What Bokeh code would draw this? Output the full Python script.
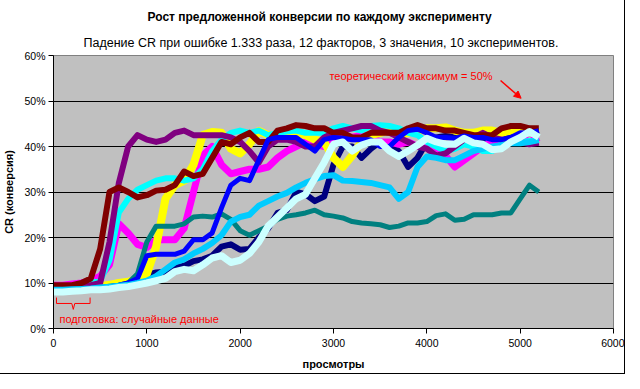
from bokeh.plotting import figure
from bokeh.models import (Range1d, SingleIntervalTicker, PrintfTickFormatter,
                          Title, Label, Arrow, NormalHead)
from bokeh.embed import file_html
from bokeh.resources import INLINE

FONT = "Liberation Sans"

TITLE = "Рост предложенной конверсии по каждому эксперименту"
SUBTITLE = "Падение CR при ошибке 1.333 раза, 12 факторов, 3 значения, 10 экспериментов."
X_LABEL = "просмотры"
Y_LABEL = "CR (конверсия)"
NOTE_MAX = "теоретический максимум = 50%"
NOTE_PREP = "подготовка: случайные данные"

# views (x) for every series
views = [0, 100, 200, 300, 400, 500, 600, 700, 800, 900,
         1000, 1100, 1200, 1300, 1400, 1500, 1600, 1700, 1800, 1900,
         2000, 2100, 2200, 2300, 2400, 2500, 2600, 2700, 2800, 2900,
         3000, 3100, 3200, 3300, 3400, 3500, 3600, 3700, 3800, 3900,
         4000, 4100, 4200, 4300, 4400, 4500, 4600, 4700, 4800, 4900,
         5000, 5100, 5200]

# conversion, % (one list per experiment)
cr_exp1 = [8.5, 8.6, 8.7, 8.8, 9.0, 9.2, 9.5, 9.8, 10.2, 10.8,
           11.8, 12.3, 12.5, 13.3, 13.8, 14.8, 15.2, 16.0, 18.0, 18.5,
           17.3, 17.5, 20.0, 22.0, 25.4, 26.0, 30.0, 29.5, 28.0, 29.0,
           36.0, 40.0, 40.0, 37.5, 39.5, 41.0, 40.5, 39.0, 35.5, 37.5,
           41.0, 42.0, 42.3, 42.0, 42.5, 42.0, 41.0, 39.5, 41.0, 42.5,
           43.0, 43.0, 43.5]
cr_exp2 = [9.5, 9.5, 9.8, 10.0, 10.5, 11.5, 14.0, 23.0, 21.0, 18.5,
           17.8, 19.5, 19.5, 19.5, 22.0, 30.0, 38.0, 40.0, 36.0, 34.0,
           34.5, 35.0, 35.0, 35.5, 37.5, 39.0, 40.0, 41.0, 40.5, 40.0,
           41.5, 42.5, 42.0, 42.5, 42.0, 41.0, 41.0, 40.5, 41.0, 40.0,
           40.0, 39.0, 38.0, 35.5, 37.0, 38.5, 40.0, 41.0, 41.5, 41.0,
           42.0, 41.0, 42.0]
cr_exp3 = [8.5, 8.5, 8.6, 8.7, 9.0, 9.3, 9.6, 10.0, 10.3, 10.7,
           12.0, 18.0, 28.5, 31.5, 32.5, 36.0, 42.5, 43.2, 43.0, 39.5,
           38.5, 40.5, 43.4, 42.5, 42.0, 43.0, 43.0, 42.5, 41.5, 41.0,
           37.5, 35.5, 38.0, 41.0, 42.5, 43.0, 43.5, 42.5, 43.0, 43.5,
           44.0, 44.0, 44.2, 43.5, 43.0, 43.0, 43.5, 43.5, 43.0, 43.5,
           43.8, 43.5, 43.0]
cr_exp4 = [9.0, 9.0, 9.2, 9.5, 10.0, 10.5, 15.0, 25.5, 28.5, 30.5,
           31.5, 32.5, 33.0, 33.0, 32.5, 33.0, 35.0, 39.0, 41.5, 43.0,
           43.5, 43.0, 43.5, 42.5, 43.0, 43.3, 43.5, 43.0, 43.0, 43.0,
           44.0, 44.5, 44.0, 43.5, 44.5, 44.7, 44.5, 44.0, 43.0, 42.5,
           41.0, 40.0, 39.0, 39.5, 40.5, 40.0, 39.0, 39.0, 40.5, 41.0,
           41.0, 41.2, 41.0]
cr_exp5 = [9.0, 9.0, 9.2, 9.3, 9.5, 10.0, 19.0, 32.0, 40.0, 42.5,
           41.5, 41.0, 41.5, 43.0, 43.5, 42.5, 42.5, 42.5, 42.5, 42.0,
           41.0, 39.0, 36.5, 40.0, 41.5, 41.5, 41.0, 40.0, 40.0, 42.0,
           43.0, 43.5, 44.0, 44.5, 44.5, 43.5, 43.0, 42.0, 41.0, 40.0,
           39.5, 38.0, 38.5, 40.0, 41.5, 42.0, 43.0, 42.0, 41.5, 41.5,
           41.0, 40.5, 40.8]
cr_exp6 = [9.5, 9.5, 9.5, 10.0, 11.0, 17.5, 30.0, 31.0, 30.0, 28.8,
           29.3, 30.3, 30.5, 31.5, 34.5, 33.5, 34.0, 37.5, 41.0, 40.5,
           42.0, 43.0, 41.0, 41.0, 43.5, 44.0, 44.7, 44.5, 44.0, 44.0,
           43.0, 43.0, 42.0, 42.0, 43.0, 43.0, 43.0, 43.0, 44.0, 44.7,
           44.0, 44.0, 43.5, 43.5, 43.0, 42.5, 42.5, 42.5, 44.0, 44.5,
           44.5, 44.0, 44.0]
cr_exp7 = [8.5, 8.3, 8.3, 8.5, 8.7, 9.0, 9.3, 9.5, 10.0, 12.0,
           19.0, 22.5, 22.5, 22.5, 23.0, 24.5, 24.7, 24.5, 25.2, 24.0,
           21.5, 20.5, 21.5, 22.5, 24.0, 24.7, 25.0, 25.4, 26.0, 25.0,
           24.7, 24.3, 23.5, 23.2, 23.0, 22.8, 22.2, 22.5, 23.2, 23.2,
           23.5, 24.8, 25.2, 23.8, 24.0, 25.0, 25.0, 25.0, 25.4, 25.4,
           28.5, 31.5, 30.0]
cr_exp8 = [8.5, 8.5, 8.6, 8.7, 8.8, 9.0, 9.2, 9.5, 10.0, 11.0,
           16.0, 16.3, 16.3, 16.3, 17.0, 19.5, 19.5, 21.0, 26.5, 31.5,
           33.0, 32.5, 37.0, 41.5, 42.0, 42.0, 42.0, 40.5, 39.0, 41.5,
           42.0, 41.8, 41.5, 41.5, 41.5, 40.0, 40.0, 42.0, 43.5, 43.8,
           43.0, 42.0, 42.0, 41.8, 42.3, 42.0, 42.0, 41.5, 41.5, 42.0,
           43.0, 43.0, 43.5]
cr_exp9 = [8.5, 8.5, 8.6, 8.7, 8.8, 9.0, 9.2, 9.4, 9.6, 10.0,
           10.5, 11.5, 13.0, 14.5, 15.2, 16.5, 17.5, 18.8, 20.5, 23.5,
           24.5, 25.0, 27.0, 28.0, 29.0, 29.8, 31.0, 32.0, 32.8, 33.5,
           33.7, 32.5, 32.4, 32.2, 32.0, 31.5, 31.0, 28.5, 30.0, 35.5,
           37.8, 37.5, 37.0, 37.0, 38.0, 39.0, 39.5, 40.0, 40.3, 40.7,
           40.7, 41.0, 41.4]
cr_exp10 = [8.0, 8.0, 8.2, 8.3, 8.5, 8.5, 8.7, 9.0, 9.2, 9.6,
            10.0, 10.5, 11.0, 12.5, 13.0, 12.7, 14.0, 15.5, 16.0, 14.5,
            15.0, 16.5, 19.0, 22.5, 24.5, 26.5, 28.5, 29.5, 33.0, 36.5,
            40.5, 41.0, 39.0, 40.3, 41.0, 41.0, 39.0, 37.8, 39.0, 40.3,
            41.8, 41.0, 40.5, 40.5, 41.8, 40.8, 40.5, 39.3, 39.5, 41.0,
            42.0, 43.3, 42.0]

colors = ["#000080", "#FF00FF", "#FFFF00", "#00FFFF", "#800080",
          "#800000", "#008080", "#0000FF", "#00CCFF", "#CCFFFF"]
widths = [6, 7, 8, 6, 6, 6, 5, 5, 6, 7]
series = [cr_exp1, cr_exp2, cr_exp3, cr_exp4, cr_exp5,
          cr_exp6, cr_exp7, cr_exp8, cr_exp9, cr_exp10]

# annotation anchors
prep_start, prep_end = 0, 400
theory_max = 50

p = figure(width=624, height=373, x_range=Range1d(0, 6000), y_range=Range1d(0, 60),
           output_backend="svg", toolbar_location=None,
           min_border_left=47, min_border_right=11, min_border_top=55, min_border_bottom=45,
           background_fill_color="#C0C0C0", border_fill_color="white")
p.styles = {"outline": "1px solid black"}
p.outline_line_color = "#808080"
p.outline_line_width = 1

xa = p.below[0]
ya = p.left[0]
xa.ticker = SingleIntervalTicker(interval=1000, num_minor_ticks=0)
ya.ticker = SingleIntervalTicker(interval=10, num_minor_ticks=0)
ya.formatter = PrintfTickFormatter(format="%d%%")
for ax in (xa, ya):
    ax.major_tick_out = 5
    ax.major_tick_in = 0
    ax.minor_tick_out = 0
    ax.minor_tick_in = 0
    ax.axis_line_color = "black"
    ax.major_tick_line_color = "black"
    ax.major_label_text_font = FONT
    ax.major_label_text_font_size = "10.5px"
    ax.major_label_text_color = "black"
    ax.axis_label_text_font = FONT
    ax.axis_label_text_font_size = "11px"
    ax.axis_label_text_font_style = "bold"
    ax.axis_label_text_color = "black"
xa.axis_label = X_LABEL
ya.axis_label = Y_LABEL
xa.major_label_standoff = 5
ya.major_label_standoff = 3
xa.axis_label_standoff = 8
ya.axis_label_standoff = 6

sub = Title(text=SUBTITLE, align="left", offset=30, text_font=FONT, text_font_size="12.5px",
            text_font_style="normal", text_color="black", standoff=12)
p.add_layout(sub, "above")

p.title.text = TITLE
p.title.align = "left"
p.title.offset = 94
p.title.text_font = FONT
p.title.text_font_size = "12px"
p.title.text_font_style = "bold"
p.title.text_color = "black"
p.title.standoff = 8

p.xgrid.visible = False
p.ygrid.ticker = SingleIntervalTicker(interval=10, num_minor_ticks=0)
p.ygrid.grid_line_color = "black"
p.ygrid.grid_line_width = 1
p.ygrid.grid_line_alpha = 1

for vals, c, w in zip(series, colors, widths):
    p.line(views, vals, line_color=c, line_width=w, line_join="round")

# annotations
p.add_layout(Label(x=3830, y=theory_max + 5.6, text=NOTE_MAX, text_align="center",
                   text_baseline="middle", text_color="#FF0000", text_font=FONT,
                   text_font_size="11px"))
p.add_layout(Arrow(end=NormalHead(size=7, fill_color="#FF0000", line_color="#FF0000"),
                   x_start=4790, y_start=theory_max + 4.5, x_end=5010, y_end=theory_max + 0.6,
                   line_color="#FF0000", line_width=1.5))

b_left, b_right = prep_start + 32, prep_end - 8
b_mid = (b_left + b_right) / 2
p.line([b_left, b_left, b_mid - 16, b_mid, b_mid + 16, b_right, b_right],
       [6.8, 5.5, 5.5, 4.2, 5.5, 5.5, 6.8], line_color="#FF0000", line_width=1)
p.add_layout(Label(x=prep_start + 64, y=2.0, text=NOTE_PREP, text_align="left",
                   text_baseline="middle", text_color="#FF0000", text_font=FONT,
                   text_font_size="11px"))

open("out.html", "w").write(file_html(p, INLINE))
